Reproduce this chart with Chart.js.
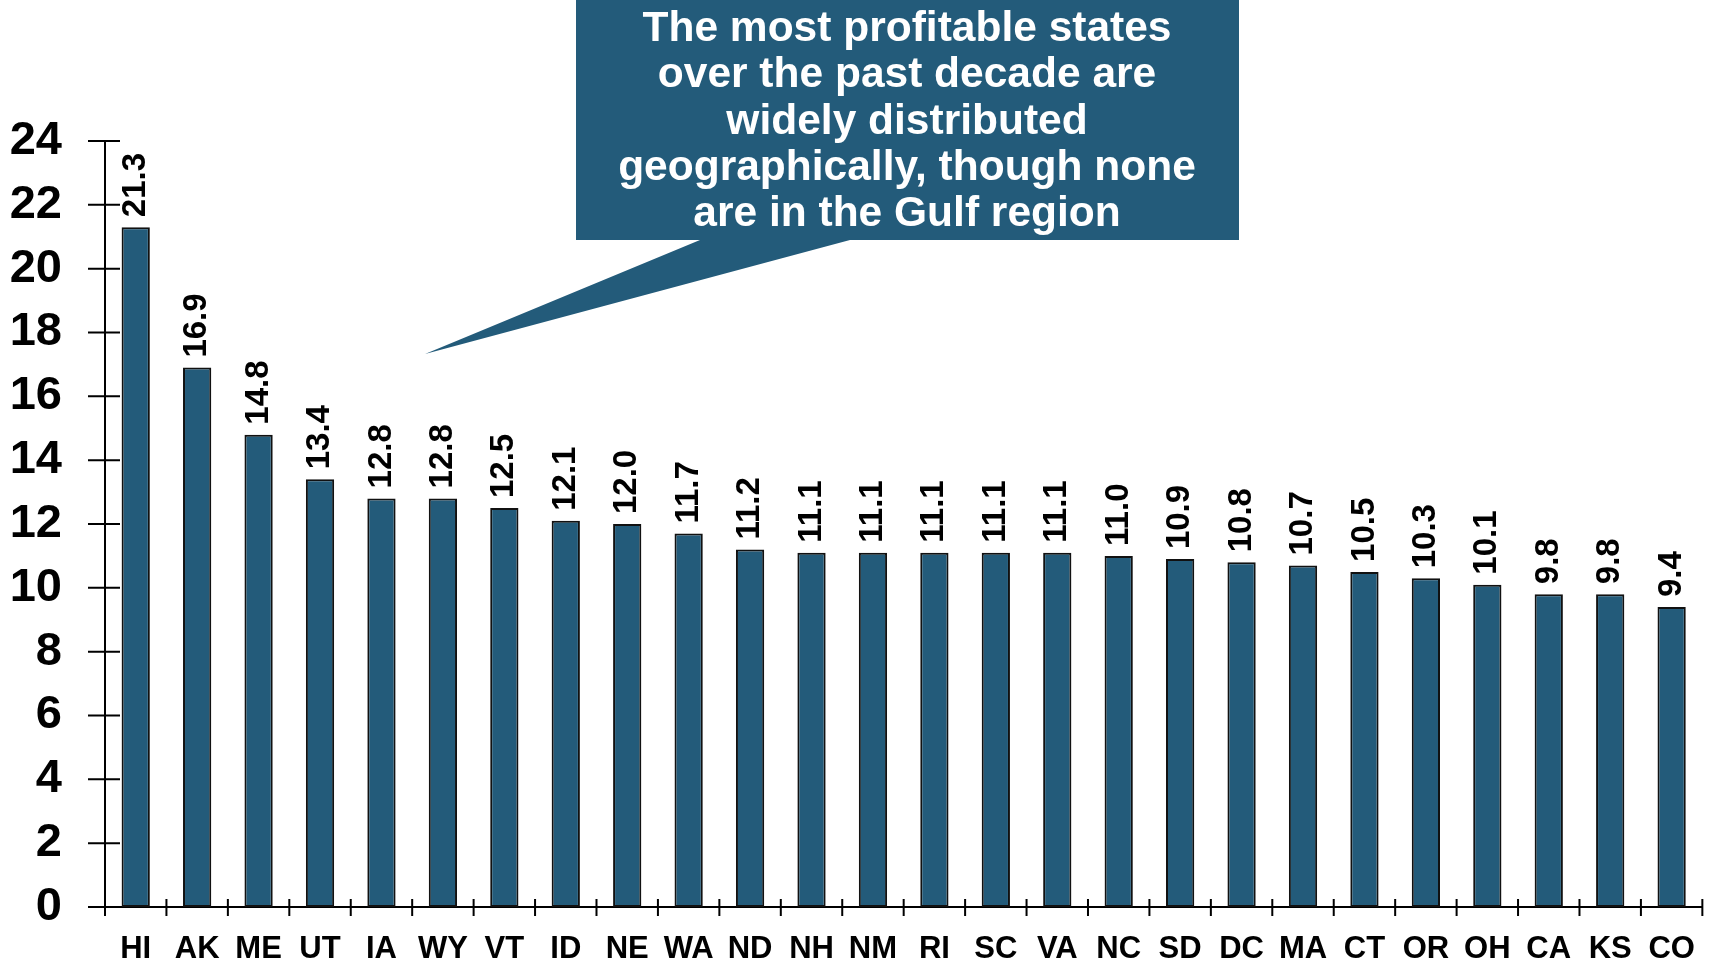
<!DOCTYPE html>
<html>
<head>
  <meta charset="UTF-8">
  <title>Most profitable states</title>
  <script src="https://cdn.jsdelivr.net/npm/chart.js"></script>
  <style>
    body { margin: 0; background: #fff; }
  </style>
</head>
<body>
  <canvas id="stateChart" width="1719" height="965"></canvas>

  <script>
    const states = ['HI', 'AK', 'ME', 'UT', 'IA', 'WY', 'VT', 'ID', 'NE', 'WA', 'ND', 'NH', 'NM',
                    'RI', 'SC', 'VA', 'NC', 'SD', 'DC', 'MA', 'CT', 'OR', 'OH', 'CA', 'KS', 'CO'];
    const values = [21.3, 16.9, 14.8, 13.4, 12.8, 12.8, 12.5, 12.1, 12.0, 11.7, 11.2, 11.1, 11.1,
                    11.1, 11.1, 11.1, 11.0, 10.9, 10.8, 10.7, 10.5, 10.3, 10.1, 9.8, 9.8, 9.4];
    const yTicks = [0, 2, 4, 6, 8, 10, 12, 14, 16, 18, 20, 22, 24];
    const calloutLines = [
      'The most profitable states',
      'over the past decade are',
      'widely distributed',
      'geographically, though none',
      'are in the Gulf region'
    ];

    const BLUE = '#235b7a';
    const FONT = '"Liberation Sans", Arial, sans-serif';

    // tick marks that cross the axis lines, like the original
    const crossTicks = {
      id: 'crossTicks',
      afterDraw(chart) {
        const ctx = chart.ctx;
        const y = chart.scales.y;
        const area = chart.chartArea;
        ctx.save();
        ctx.strokeStyle = '#000';
        ctx.lineWidth = 2;
        ctx.beginPath();
        yTicks.forEach(v => {
          const py = y.getPixelForValue(v);
          ctx.moveTo(area.left - 17, py);
          ctx.lineTo(area.left + 15, py);
        });
        const step = (area.right - area.left) / states.length;
        for (let i = 0; i <= states.length; i++) {
          const px = area.left + i * step;
          ctx.moveTo(px, area.bottom - 8);
          ctx.lineTo(px, area.bottom + 9);
        }
        ctx.stroke();
        ctx.restore();
      }
    };

    // rotated value labels above each bar
    const valueLabels = {
      id: 'valueLabels',
      afterDatasetsDraw(chart) {
        const ctx = chart.ctx;
        const meta = chart.getDatasetMeta(0);
        ctx.save();
        ctx.fillStyle = '#000';
        ctx.font = 'bold 33px ' + FONT;
        ctx.textAlign = 'left';
        ctx.textBaseline = 'middle';
        meta.data.forEach((bar, i) => {
          ctx.save();
          ctx.translate(bar.x, bar.y - 10);
          ctx.rotate(-Math.PI / 2);
          ctx.fillText(values[i].toFixed(1), 0, 0);
          ctx.restore();
        });
        ctx.restore();
      }
    };

    // speech-bubble callout at the top
    const callout = {
      id: 'callout',
      afterDraw(chart) {
        const ctx = chart.ctx;
        ctx.save();
        ctx.fillStyle = BLUE;
        ctx.beginPath();
        ctx.moveTo(576, 0);
        ctx.lineTo(1239, 0);
        ctx.lineTo(1239, 240);
        ctx.lineTo(850, 240);
        ctx.lineTo(425, 354);
        ctx.lineTo(700, 240);
        ctx.lineTo(576, 240);
        ctx.closePath();
        ctx.fill();

        ctx.fillStyle = '#fff';
        ctx.font = 'bold 42.5px ' + FONT;
        ctx.textAlign = 'center';
        ctx.textBaseline = 'alphabetic';
        calloutLines.forEach((line, i) => {
          ctx.fillText(line, 907, 41 + i * 46.3);
        });
        ctx.restore();
      }
    };

    new Chart(document.getElementById('stateChart').getContext('2d'), {
      type: 'bar',
      data: {
        labels: states,
        datasets: [{
          data: values,
          backgroundColor: BLUE,
          borderColor: '#111',
          borderWidth: 2,
          borderSkipped: false,
          barPercentage: 0.46,
          categoryPercentage: 1.0
        }]
      },
      options: {
        responsive: false,
        animation: false,
        layout: { padding: { top: 141, right: 6, bottom: 0, left: 0 } },
        plugins: {
          legend: { display: false },
          tooltip: { enabled: false }
        },
        scales: {
          x: {
            grid: { display: false, drawTicks: false },
            border: { display: true, color: '#000', width: 2 },
            ticks: {
              color: '#000',
              font: { family: FONT, size: 31, weight: 'bold' },
              padding: 24,
              maxRotation: 0,
              autoSkip: false
            },
            afterFit(scale) { scale.height = 58; }
          },
          y: {
            min: 0,
            max: 24,
            grid: { display: false, drawTicks: false },
            border: { display: true, color: '#000', width: 2 },
            afterBuildTicks(scale) {
              scale.ticks = yTicks.map(v => ({ value: v }));
            },
            ticks: {
              color: '#000',
              font: { family: FONT, size: 47, weight: 'bold' },
              padding: 43
            },
            afterFit(scale) {
              scale.width = 105;
              scale.paddingTop = 0;
              scale.paddingBottom = 0;
            }
          }
        }
      },
      plugins: [crossTicks, valueLabels, callout]
    });
  </script>
</body>
</html>
